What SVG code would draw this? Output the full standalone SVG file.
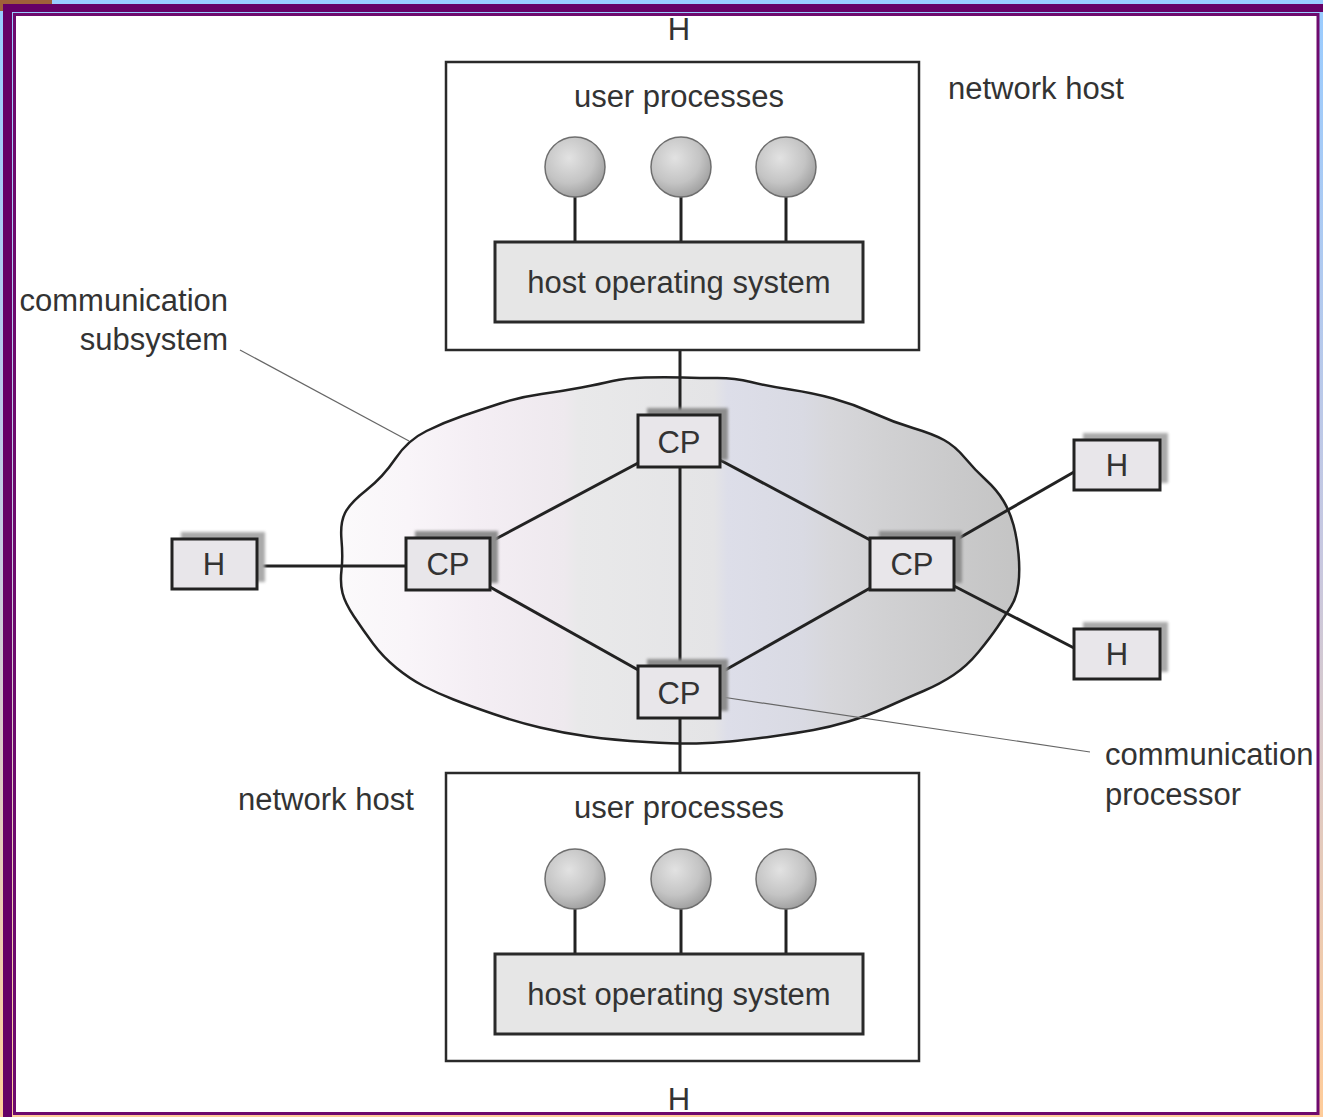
<svg xmlns="http://www.w3.org/2000/svg" width="1323" height="1117" viewBox="0 0 1323 1117">
<defs>
<linearGradient id="bg" x1="0" y1="0" x2="0" y2="1117" gradientUnits="userSpaceOnUse">
<stop offset="0" stop-color="#99ccff"/><stop offset="0.5" stop-color="#c8c8e0"/><stop offset="1" stop-color="#ffcc99"/>
</linearGradient>
<linearGradient id="cloudfill" x1="340" y1="0" x2="1020" y2="0" gradientUnits="userSpaceOnUse">
<stop offset="0" stop-color="#fbfafb"/><stop offset="0.1" stop-color="#f9f5f9"/><stop offset="0.2" stop-color="#f4eef4"/><stop offset="0.33" stop-color="#eee9ee"/><stop offset="0.35" stop-color="#e9e9ea"/><stop offset="0.55" stop-color="#e4e4e6"/><stop offset="0.57" stop-color="#dddee9"/><stop offset="0.68" stop-color="#d9dae3"/><stop offset="0.72" stop-color="#d7d7db"/><stop offset="0.8" stop-color="#d1d1d3"/><stop offset="0.9" stop-color="#cacacb"/><stop offset="1" stop-color="#c4c4c4"/>
</linearGradient>
<radialGradient id="ball" cx="0.4" cy="0.35" r="0.7">
<stop offset="0" stop-color="#e2e2e2"/><stop offset="0.6" stop-color="#c4c4c4"/><stop offset="1" stop-color="#9c9c9c"/>
</radialGradient>
<filter id="blur" x="-20%" y="-20%" width="140%" height="140%"><feGaussianBlur stdDeviation="1.5"/></filter>
<style>
.t{font-family:"Liberation Sans",Arial,sans-serif;font-size:31px;fill:#333}
.c{text-anchor:middle}
.e{text-anchor:end}
.frame{fill:#fff;stroke:#2a2a2a;stroke-width:2.5}
.os{fill:#e6e6e6;stroke:#2a2a2a;stroke-width:3}
.box{fill:#e8e6ea;stroke:#222;stroke-width:3}
.sh{fill:#8e8e8e;filter:url(#blur)}
.shl{fill:#aaaaaa;filter:url(#blur)}
.ln{stroke:#222;stroke-width:3;fill:none}
.lead{stroke:#666;stroke-width:1.2;fill:none}
.ball{fill:url(#ball);stroke:#6e6e6e;stroke-width:1.5}
</style>
</defs>
<rect x="0" y="0" width="1323" height="1117" fill="url(#bg)"/>
<rect x="0" y="0" width="52" height="11" fill="#a0603a"/>
<rect x="3" y="4" width="1320" height="8" fill="#660066"/>
<rect x="3" y="4" width="9" height="1113" fill="#660066"/>
<rect x="14.5" y="14.5" width="1303.5" height="1099" fill="#fff" stroke="#6e0a6e" stroke-width="3"/>

<g id="cloud">
<path d="M395.5,458.5 Q408,440 426.5,431 Q445,422 462.5,416 Q480,410 500,403.5 Q520,397 541.5,394 Q563,391 581.5,387.5 Q600,384 612.5,381 Q625,378 645,377.5 Q665,377 682.5,377.5 Q700,378 717.5,378 Q735,378 751,382 Q767,386 790,389.5 Q813,393 833,398.5 Q853,404 873,413 Q893,422 913,428 Q933,434 944,440 Q955,446 965,458 Q975,470 986,480 Q997,490 1003.5,501 Q1010,512 1013.5,525 Q1017,538 1018.5,554 Q1020,570 1018.5,583.5 Q1017,597 1011,606.5 Q1005,616 997.5,627 Q990,638 978.5,652 Q967,666 953.5,675 Q940,684 923.5,691 Q907,698 887,707 Q867,716 848.5,721.5 Q830,727 813.5,730 Q797,733 772,736.5 Q747,740 730,741.5 Q713,743 696.5,743.5 Q680,744 646.5,742 Q613,740 588,736.5 Q563,733 540,727.5 Q517,722 493.5,714 Q470,706 453.5,699.5 Q437,693 423.5,686 Q410,679 396.5,668 Q383,657 373,643.5 Q363,630 354,616.5 Q345,603 342.5,593 Q340,583 341.5,570 Q343,557 341.5,540 Q340,523 345,513 Q350,503 366.5,490 Q383,477 395.5,458.5 Z" fill="url(#cloudfill)" stroke="#222" stroke-width="2.5"/>
</g>

<g id="connectors">
<line class="ln" x1="680" y1="350" x2="680" y2="773"/>
<line class="ln" x1="640" y1="462" x2="490" y2="542"/>
<line class="ln" x1="720" y1="460" x2="872" y2="541"/>
<line class="ln" x1="490" y1="587" x2="640" y2="671"/>
<line class="ln" x1="872" y1="587" x2="720" y2="673"/>
<line class="ln" x1="257" y1="566" x2="406" y2="566"/>
<line class="ln" x1="954" y1="541" x2="1074" y2="472"/>
<line class="ln" x1="954" y1="586" x2="1074" y2="648"/>
<line class="lead" x1="240" y1="350" x2="409" y2="441"/>
<line class="lead" x1="722" y1="697" x2="1090" y2="752"/>
</g>

<g id="host-top">
<rect class="frame" x="446" y="62" width="473" height="288"/>
<text class="t c" x="679" y="107">user processes</text>
<line class="ln" x1="575" y1="195" x2="575" y2="243"/>
<line class="ln" x1="681" y1="195" x2="681" y2="243"/>
<line class="ln" x1="786" y1="195" x2="786" y2="243"/>
<circle class="ball" cx="575" cy="167" r="30"/>
<circle class="ball" cx="681" cy="167" r="30"/>
<circle class="ball" cx="786" cy="167" r="30"/>
<rect class="os" x="495" y="242" width="368" height="80"/>
<text class="t c" x="679" y="293">host operating system</text>
</g>

<g id="host-bottom">
<rect class="frame" x="446" y="773" width="473" height="288"/>
<text class="t c" x="679" y="818">user processes</text>
<line class="ln" x1="575" y1="907" x2="575" y2="955"/>
<line class="ln" x1="681" y1="907" x2="681" y2="955"/>
<line class="ln" x1="786" y1="907" x2="786" y2="955"/>
<circle class="ball" cx="575" cy="879" r="30"/>
<circle class="ball" cx="681" cy="879" r="30"/>
<circle class="ball" cx="786" cy="879" r="30"/>
<rect class="os" x="495" y="954" width="368" height="80"/>
<text class="t c" x="679" y="1005">host operating system</text>
</g>

<g id="cp-top">
<rect class="sh" x="647" y="408" width="81" height="52"/>
<rect class="box" x="638" y="415" width="82" height="52"/>
<text class="t c" x="679" y="453">CP</text>
</g>
<g id="cp-left">
<rect class="sh" x="415" y="531" width="83" height="52"/>
<rect class="box" x="406" y="538" width="84" height="52"/>
<text class="t c" x="448" y="575">CP</text>
</g>
<g id="cp-right">
<rect class="sh" x="879" y="531" width="83" height="52"/>
<rect class="box" x="870" y="538" width="84" height="52"/>
<text class="t c" x="912" y="575">CP</text>
</g>
<g id="cp-bottom">
<rect class="sh" x="647" y="659" width="81" height="52"/>
<rect class="box" x="638" y="666" width="82" height="52"/>
<text class="t c" x="679" y="704">CP</text>
</g>

<g id="h-left">
<rect class="shl" x="181" y="532" width="84" height="50"/>
<rect class="box" x="172" y="539" width="85" height="50"/>
<text class="t c" x="214" y="575">H</text>
</g>
<g id="h-right-top">
<rect class="shl" x="1083" y="433" width="85" height="50"/>
<rect class="box" x="1074" y="440" width="86" height="50"/>
<text class="t c" x="1117" y="476">H</text>
</g>
<g id="h-right-bottom">
<rect class="shl" x="1083" y="622" width="85" height="50"/>
<rect class="box" x="1074" y="629" width="86" height="50"/>
<text class="t c" x="1117" y="665">H</text>
</g>

<g id="labels">
<text class="t c" x="679" y="40">H</text>
<text class="t c" x="679" y="1110">H</text>
<text class="t" x="948" y="99">network host</text>
<text class="t" x="238" y="810">network host</text>
<text class="t e" x="228" y="311">communication</text>
<text class="t e" x="228" y="350">subsystem</text>
<text class="t" x="1105" y="765">communication</text>
<text class="t" x="1105" y="805">processor</text>
</g>
</svg>
